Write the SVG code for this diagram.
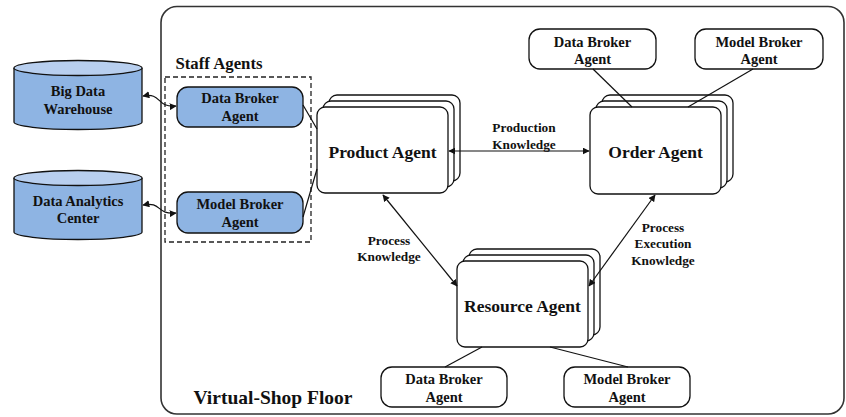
<svg xmlns="http://www.w3.org/2000/svg" width="846" height="417" viewBox="0 0 846 417">
  <style>
    .t { font-family: "Liberation Serif", "Times New Roman", serif; font-weight: bold; fill: #111; text-anchor: middle; }
    .box { fill: #fff; stroke: #111; stroke-width: 1.3; }
    .blue { fill: #8eb4e3; stroke: #111; stroke-width: 1.3; }
    .cyl { fill: #8eb4e3; stroke: #111; stroke-width: 1.3; }
    .cyltop { fill: #b8cfef; stroke: #111; stroke-width: 1.3; }
    .ln { fill: none; stroke: #111; stroke-width: 1.2; }
    .arr { fill: none; stroke: #111; stroke-width: 1.2; marker-start: url(#ah); marker-end: url(#ah); }
    .big { font-size: 17.5px; }
    .sm { font-size: 14.5px; }
    .lbl { font-size: 13.3px; }
  </style>
  <defs>
    <marker id="ah" viewBox="0 0 10 10" refX="9" refY="5" markerWidth="7" markerHeight="7" markerUnits="userSpaceOnUse" orient="auto-start-reverse">
      <path d="M0,0 L10,5 L0,10 z" fill="#111"/>
    </marker>
  </defs>

  <!-- frame of the shop floor -->
  <g id="floor">
    <rect x="161" y="6.5" width="683" height="407.5" rx="16" fill="#fff" stroke="#333" stroke-width="1.6"/>
    <text class="t" x="273" y="404" font-size="19.5px">Virtual-Shop Floor</text>
  </g>

  <!-- staff agents group -->
  <g id="staff">
    <rect x="165" y="77" width="146" height="165" fill="none" stroke="#222" stroke-width="1.3" stroke-dasharray="5,3"/>
    <text class="t" x="219" y="69" font-size="16.8px">Staff Agents</text>
  </g>

  <g id="warehouse">
    <path class="cyl" d="M14,68 V122 A64,7.5 0 0 0 142,122 V68"/>
    <ellipse class="cyltop" cx="78" cy="68" rx="64" ry="7.5"/>
    <text class="t sm" x="78" y="96">Big Data</text>
    <text class="t sm" x="78" y="114">Warehouse</text>
  </g>

  <g id="analytics">
    <path class="cyl" d="M14,178 V232 A64,7.5 0 0 0 142,232 V178"/>
    <ellipse class="cyltop" cx="78" cy="178" rx="64" ry="7.5"/>
    <text class="t sm" x="78" y="206">Data Analytics</text>
    <text class="t sm" x="78" y="223">Center</text>
  </g>

  <g id="staff-data-broker">
    <rect class="blue" x="177" y="87" width="126" height="40" rx="11"/>
    <text class="t sm" x="240" y="103">Data Broker</text>
    <text class="t sm" x="240" y="121">Agent</text>
  </g>

  <g id="staff-model-broker">
    <rect class="blue" x="177" y="192" width="126" height="41" rx="11"/>
    <text class="t sm" x="240" y="209">Model Broker</text>
    <text class="t sm" x="240" y="227">Agent</text>
  </g>

  <g id="product-agent">
    <rect class="box" x="329" y="95" width="131" height="86" rx="8"/>
    <rect class="box" x="323" y="101" width="131" height="86" rx="8"/>
    <rect class="box" x="317" y="107" width="131" height="86" rx="8"/>
    <text class="t big" x="382.5" y="158">Product Agent</text>
  </g>

  <g id="order-agent">
    <rect class="box" x="602" y="95" width="131" height="87" rx="8"/>
    <rect class="box" x="596" y="101" width="131" height="87" rx="8"/>
    <rect class="box" x="590" y="107" width="131" height="87" rx="8"/>
    <text class="t big" x="655.5" y="158">Order Agent</text>
  </g>

  <g id="resource-agent">
    <rect class="box" x="469" y="249" width="131" height="86" rx="8"/>
    <rect class="box" x="463" y="255" width="131" height="86" rx="8"/>
    <rect class="box" x="457" y="261" width="131" height="86" rx="8"/>
    <text class="t big" x="522.5" y="312">Resource Agent</text>
  </g>

  <g id="order-data-broker">
    <rect class="box" x="529" y="29" width="127" height="40" rx="11"/>
    <text class="t sm" x="592.5" y="47">Data Broker</text>
    <text class="t sm" x="592.5" y="64">Agent</text>
  </g>

  <g id="order-model-broker">
    <rect class="box" x="695" y="29" width="128" height="40" rx="11"/>
    <text class="t sm" x="759" y="47">Model Broker</text>
    <text class="t sm" x="759" y="64">Agent</text>
  </g>

  <g id="resource-data-broker">
    <rect class="box" x="381" y="367" width="126" height="40" rx="11"/>
    <text class="t sm" x="444" y="384">Data Broker</text>
    <text class="t sm" x="444" y="402">Agent</text>
  </g>

  <g id="resource-model-broker">
    <rect class="box" x="564" y="367" width="126" height="40" rx="11"/>
    <text class="t sm" x="627" y="384">Model Broker</text>
    <text class="t sm" x="627" y="402">Agent</text>
  </g>

  <g id="connectors">
    <!-- data sources to staff brokers -->
    <path class="arr" d="M143,96 C162,92 156,108 176,106"/>
    <path class="arr" d="M143,205 C162,201 156,215 176,213"/>
    <!-- staff brokers to product agent -->
    <path class="ln" d="M303,105 L317,129"/>
    <path class="ln" d="M303,217 L317,169"/>
    <!-- order agent brokers -->
    <path class="ln" d="M593,69 L632,107"/>
    <path class="ln" d="M753,69 L688,107"/>
    <!-- resource agent brokers -->
    <path class="ln" d="M445,367 L482,347"/>
    <path class="ln" d="M628,367 L550,347"/>
    <!-- knowledge exchanges -->
    <path class="arr" d="M449,151 L589,151"/>
    <path class="arr" d="M383,195 L457,286"/>
    <path class="arr" d="M655,195 L589,286"/>
    <text class="t lbl" x="524" y="132">Production</text>
    <text class="t lbl" x="524" y="149">Knowledge</text>
    <text class="t lbl" x="389" y="245">Process</text>
    <text class="t lbl" x="389" y="261">Knowledge</text>
    <text class="t lbl" x="663" y="232">Process</text>
    <text class="t lbl" x="663" y="248">Execution</text>
    <text class="t lbl" x="663" y="265">Knowledge</text>
  </g>
</svg>
